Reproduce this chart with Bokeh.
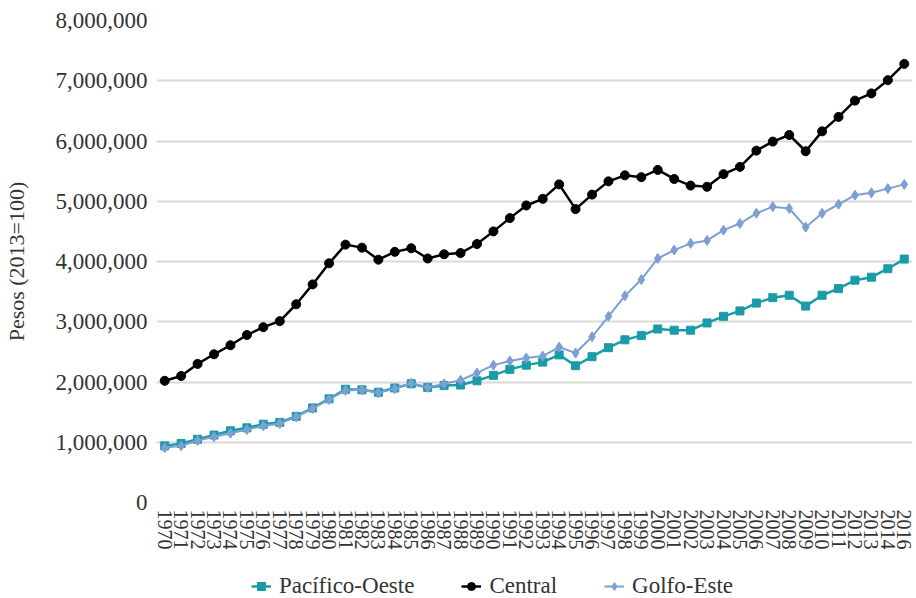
from bokeh.plotting import figure
from bokeh.layouts import column
from bokeh.models import (ColumnDataSource, FactorRange, Range1d, Legend, LegendItem,
                          NumeralTickFormatter, SingleIntervalTicker)
from bokeh.embed import file_html
from bokeh.resources import INLINE

years = [str(y) for y in range(1970, 2015)] + ["2016"]

central = [2.02, 2.10, 2.30, 2.46, 2.61, 2.78, 2.91, 3.01, 3.29, 3.62,
           3.97, 4.28, 4.23, 4.03, 4.16, 4.22, 4.05, 4.12, 4.14, 4.29,
           4.50, 4.72, 4.93, 5.04, 5.28, 4.87, 5.11, 5.33, 5.43, 5.40,
           5.52, 5.37, 5.26, 5.24, 5.45, 5.57, 5.84, 5.99, 6.10, 5.83,
           6.16, 6.40, 6.67, 6.79, 7.01, 7.28]

pacifico = [0.94, 0.98, 1.05, 1.12, 1.19, 1.24, 1.30, 1.33, 1.43, 1.57,
            1.72, 1.88, 1.87, 1.83, 1.90, 1.97, 1.91, 1.94, 1.95, 2.02,
            2.11, 2.21, 2.28, 2.33, 2.45, 2.27, 2.42, 2.57, 2.70, 2.77,
            2.88, 2.86, 2.86, 2.98, 3.09, 3.18, 3.31, 3.40, 3.44, 3.26,
            3.44, 3.55, 3.69, 3.74, 3.88, 4.04]

golfo = [0.91, 0.94, 1.03, 1.09, 1.15, 1.21, 1.27, 1.31, 1.42, 1.56,
         1.71, 1.86, 1.87, 1.82, 1.89, 1.98, 1.91, 1.97, 2.03, 2.15,
         2.28, 2.35, 2.40, 2.43, 2.58, 2.48, 2.75, 3.09, 3.43, 3.70,
         4.05, 4.19, 4.30, 4.35, 4.52, 4.63, 4.80, 4.91, 4.88, 4.57,
         4.80, 4.95, 5.10, 5.14, 5.21, 5.28]

series_names = ["Pacífico-Oeste", "Central", "Golfo-Este"]
y_label = "Pesos (2013=100)"

FONT = "Liberation Serif"
TXT = "#333333"
COLORS = ["#1a9ba8", "#000000", "#7d9fd3"]
MARKERS = ["square", "circle", "diamond"]
MSIZES = [8, 9, 10]
LWIDTHS = [2.5, 2.5, 2.0]
FIELDS = ["pacifico", "central", "golfo"]

source = ColumnDataSource(data=dict(
    year=years,
    pacifico=[v * 1_000_000 for v in pacifico],
    central=[v * 1_000_000 for v in central],
    golfo=[v * 1_000_000 for v in golfo],
))

x_range = FactorRange(*years)

p = figure(frame_width=756, frame_height=482, x_range=x_range,
           y_range=Range1d(0, 8_000_000), output_backend="svg",
           toolbar_location=None, min_border_left=155, min_border_top=20,
           min_border_right=5, min_border_bottom=52)
p.outline_line_color = None
p.background_fill_color = "white"

for f, c, m, s, w in zip(FIELDS, COLORS, MARKERS, MSIZES, LWIDTHS):
    p.line("year", f, source=source, color=c, line_width=w)
    p.scatter("year", f, source=source, marker=m, size=s, color=c)

# axes
p.yaxis.ticker = SingleIntervalTicker(interval=1_000_000, num_minor_ticks=0)
p.yaxis.formatter = NumeralTickFormatter(format="0,0")
p.yaxis.axis_label = y_label
p.yaxis.axis_label_text_font = FONT
p.yaxis.axis_label_text_font_size = "22px"
p.yaxis.axis_label_text_font_style = "normal"
p.yaxis.axis_label_text_color = TXT
p.yaxis.axis_label_standoff = 24

for ax in (p.xaxis[0], p.yaxis[0]):
    ax.axis_line_color = None
    ax.major_tick_line_color = None
    ax.minor_tick_line_color = None
    ax.major_tick_out = 0
    ax.major_tick_in = 0
    ax.major_label_text_font = FONT
    ax.major_label_text_color = TXT

p.yaxis.major_label_text_font_size = "23px"
p.yaxis.major_label_standoff = 9
p.xaxis.major_label_text_font_size = "20px"
p.xaxis.major_label_orientation = "vertical"
p.xaxis.major_label_standoff = 7

p.xgrid.grid_line_color = None
p.ygrid.grid_line_color = "#d9d9d9"
p.ygrid.grid_line_width = 2

# legend strip: same series, drawn off-range so only the legend shows
leg = figure(width=916, height=46, x_range=x_range, y_range=Range1d(-20, -10),
             output_backend="svg", toolbar_location=None,
             x_axis_location=None, y_axis_location=None,
             min_border_left=0, min_border_right=0, min_border_top=0,
             min_border_bottom=0)
leg.outline_line_color = None
leg.xgrid.grid_line_color = None
leg.ygrid.grid_line_color = None

items = []
for name, f, c, m, s, w in zip(series_names, FIELDS, COLORS, MARKERS, MSIZES, LWIDTHS):
    rl = leg.line("year", f, source=source, color=c, line_width=w)
    rs = leg.scatter("year", f, source=source, marker=m, size=s, color=c)
    items.append(LegendItem(label=name, renderers=[rl, rs]))

legend = Legend(items=items, orientation="horizontal", location=(95, 1))
legend.label_text_font = FONT
legend.label_text_font_size = "23px"
legend.label_text_color = TXT
legend.border_line_color = None
legend.background_fill_alpha = 0
legend.glyph_width = 20
legend.label_standoff = 8
legend.spacing = 47
legend.padding = 0
legend.margin = 0
leg.add_layout(legend, "center")

layout = column(p, leg, spacing=0)

open("out.html", "w").write(file_html(layout, INLINE))
